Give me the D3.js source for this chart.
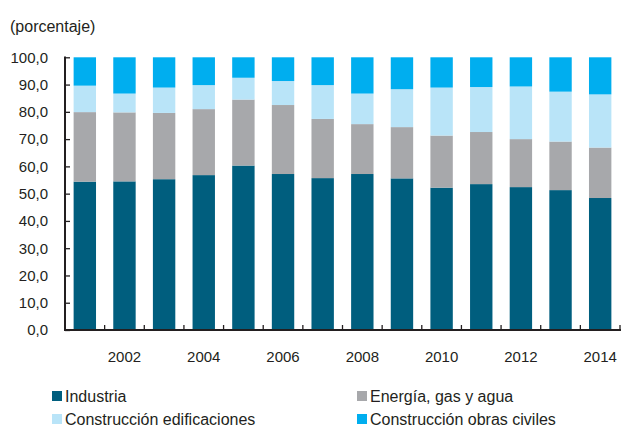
<!DOCTYPE html>
<html>
<head>
<meta charset="utf-8">
<script src="https://cdn.jsdelivr.net/npm/d3@7"></script>
<style>
  body { margin: 0; background: #fff; }
  svg text { font-family: "Liberation Sans", Arial, sans-serif; fill: #231f20; }
</style>
</head>
<body>
<script>
// data
var years = ["2001","2002","2003","2004","2005","2006","2007","2008","2009","2010","2011","2012","2013","2014"];
var industria    = [54.4, 54.5, 55.3, 56.8, 60.3, 57.2, 55.7, 57.2, 55.6, 52.2, 53.5, 52.4, 51.3, 48.4];
var energia      = [25.5, 25.3, 24.3, 24.2, 24.2, 25.3, 21.7, 18.3, 18.8, 19.1, 19.1, 17.6, 17.8, 18.5];
var edificacion  = [ 9.7,  6.9,  9.3,  8.8,  8.0,  8.8, 12.4, 11.2, 13.9, 17.6, 16.5, 19.3, 18.3, 19.5];
var obrasCiviles = [10.4, 13.3, 11.1, 10.2,  7.5,  8.7, 10.2, 13.3, 11.7, 11.1, 10.9, 10.7, 12.6, 13.6];
var seriesNames = ["Industria", "Energía, gas y agua", "Construcción edificaciones", "Construcción obras civiles"];
var colors = ["#005e7e", "#a7a8ab", "#b9e4f8", "#00aeef"];
var yTicks = [0,10,20,30,40,50,60,70,80,90,100];

var w = 621, h = 428;
var svg = d3.select("body").append("svg").attr("width", w).attr("height", h);

var x = d3.scaleBand().domain(years).range([65, 620]).paddingInner(0.435).paddingOuter(0.2175);
var y = d3.scaleLinear().domain([0, 100]).range([330, 57.3]);

// build stack rows
var keys = ["ind","ene","edi","obr"];
var rows = years.map(function(yr, i) {
  return {year: yr, ind: industria[i], ene: energia[i], edi: edificacion[i], obr: obrasCiviles[i]};
});
var stacked = d3.stack().keys(keys)(rows);

svg.selectAll("g.layer")
   .data(stacked)
   .enter()
   .append("g")
   .attr("class", "layer")
   .attr("fill", function(d, i) { return colors[i]; })
   .selectAll("rect")
   .data(function(d) { return d; })
   .enter()
   .append("rect")
   .attr("x", function(d) { return x(d.data.year); })
   .attr("y", function(d) { return y(d[1]); })
   .attr("width", x.bandwidth())
   .attr("height", function(d) { return y(d[0]) - y(d[1]); });

// y axis
var yAxis = d3.axisLeft(y).tickValues(yTicks).tickSize(0).tickPadding(17)
   .tickFormat(function(d) { return d3.format(".1f")(d).replace(".", ","); });
var gy = svg.append("g").attr("transform", "translate(65,0)").call(yAxis);
gy.select(".domain").remove();
gy.selectAll("text").attr("font-size", "15px").attr("dx", "0");
gy.selectAll(".tick").append("line")
   .attr("x1", 0).attr("x2", 5).attr("stroke", "#231f20").attr("stroke-width", 1.3);
svg.append("line").attr("x1", 65).attr("x2", 65).attr("y1", 56.5).attr("y2", 330.5)
   .attr("stroke", "#231f20").attr("stroke-width", 2);

// x axis
var gx = svg.append("g").attr("transform", "translate(0,330)");
gx.append("line").attr("x1", 64).attr("x2", 621).attr("y1", 0).attr("y2", 0)
   .attr("stroke", "#231f20").attr("stroke-width", 2);
var step = x.step();
gx.selectAll("line.tk")
   .data(years)
   .enter()
   .append("line")
   .attr("class", "tk")
   .attr("x1", function(d, i) { return 65 + (i + 1) * step; })
   .attr("x2", function(d, i) { return 65 + (i + 1) * step; })
   .attr("y1", -5).attr("y2", 0)
   .attr("stroke", "#231f20").attr("stroke-width", 1.3);
gx.selectAll("text")
   .data(years.filter(function(d) { return +d % 2 == 0; }))
   .enter()
   .append("text")
   .attr("x", function(d) { return x(d) + x.bandwidth() / 2; })
   .attr("y", 32)
   .attr("text-anchor", "middle")
   .attr("font-size", "15px")
   .text(function(d) { return d; });

// unit label
svg.append("text").attr("x", 10).attr("y", 32).attr("font-size", "16px").text("(porcentaje)");

// legend
var legPos = [[52, 391], [357, 391], [52, 414], [357, 414]];
var leg = svg.selectAll("g.leg")
   .data(seriesNames)
   .enter()
   .append("g")
   .attr("class", "leg")
   .attr("transform", function(d, i) { return "translate(" + legPos[i][0] + "," + legPos[i][1] + ")"; });
leg.append("rect").attr("x", 0).attr("y", 0).attr("width", 10).attr("height", 10)
   .attr("fill", function(d, i) { return colors[i]; });
leg.append("text").attr("x", 13).attr("y", 10.5).attr("font-size", "16px").text(function(d) { return d; });
</script>
</body>
</html>
